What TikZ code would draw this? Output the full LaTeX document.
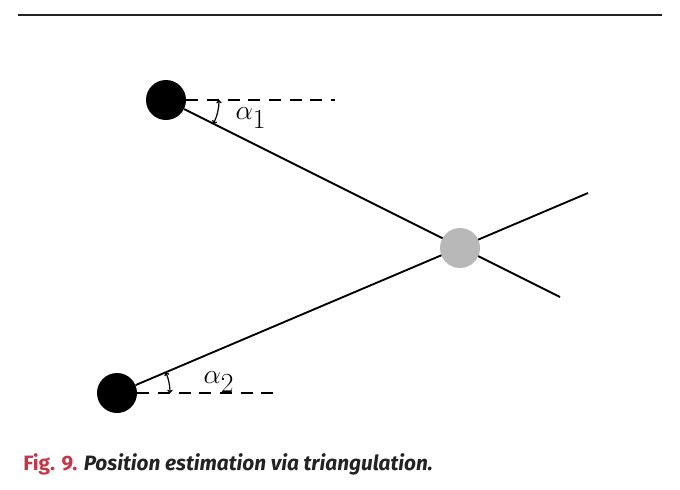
\documentclass[tikz,border=0pt]{standalone}
\usepackage{fontspec}
\newfontfamily\capfont{Fira Sans}
\usetikzlibrary{arrows.meta}
\definecolor{figred}{RGB}{196,55,74}
\definecolor{capink}{RGB}{35,35,35}
\definecolor{targetgray}{RGB}{184,184,184}
\begin{document}
\begin{tikzpicture}[x=0.75pt,y=-0.75pt,
    station/.style={circle,fill=black,inner sep=0pt,minimum size=30pt},
    target/.style={circle,fill=targetgray,inner sep=0pt,minimum size=30pt},
    bearing/.style={line width=1.4pt},
    refline/.style={line width=1.4pt,dash pattern=on 9pt off 6.5pt},
    anglearc/.style={line width=0.9pt,{Straight Barb[length=1.6pt,width=3.5pt]}-{Straight Barb[length=1.6pt,width=3.5pt]}},
    lbl/.style={font=\fontsize{20}{22}\selectfont,inner sep=0pt}]
  \useasboundingbox (0,0) rectangle (680,489);
  % --- rule over the figure ---
  \coordinate (rl) at (18,15);
  \coordinate (rr) at (662,15);
  \draw[line width=1.4pt,capink] (rl) -- (rr);
  % --- the two stations and their bearings ---
  \node[station] (s1) at (166,100) {};
  \node[station] (s2) at (117,393) {};
  \coordinate (e1) at (560,297);
  \coordinate (e2) at (588,193);
  \coordinate (d1) at (335,100);
  \coordinate (d2) at (280,393);
  \draw[bearing] (s1) -- (e1);
  \draw[bearing] (s2) -- (e2);
  \draw[refline] (s1.east) -- (d1);
  \draw[refline] (s2.east) -- (d2);
  \draw[anglearc] ([shift={(0:53)}]s1.center) arc (0:26.7:53);
  \draw[anglearc] ([shift={(0:53)}]s2.center) arc (0:-22.9:53);
  \node[lbl] (a1) at (251,118) {$\alpha_{\textstyle 1}$};
  \node[lbl] (a2) at (219,382) {$\alpha_{\textstyle 2}$};
  % --- estimated position ---
  \node[target] (p) at (460,248) {};
  % --- caption ---
  \node[anchor=base west,inner sep=0pt,font=\capfont\bfseries\fontsize{15.6}{18}\selectfont]
    (cap) at (23,470) {\textcolor{figred}{Fig. 9.} \textcolor{capink}{\itshape Position estimation via triangulation.}};
\end{tikzpicture}
\end{document}
